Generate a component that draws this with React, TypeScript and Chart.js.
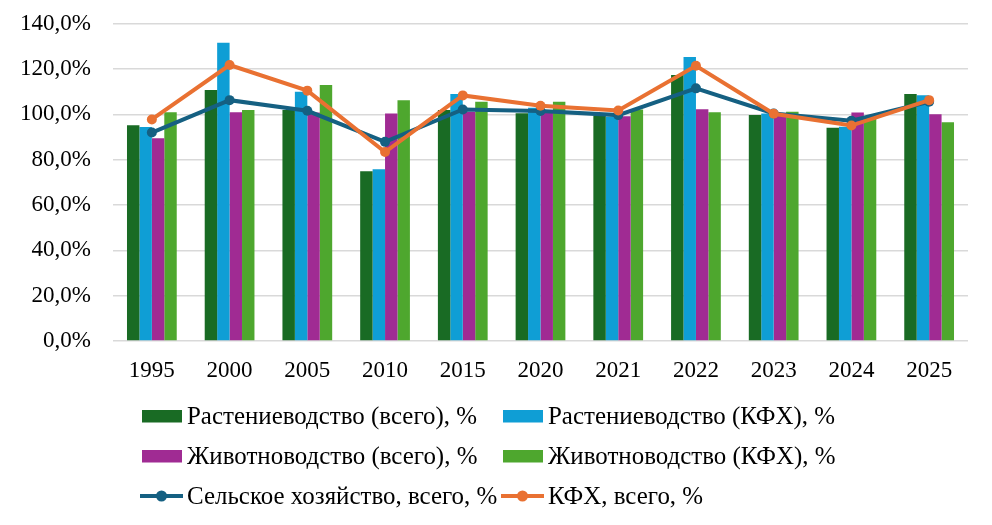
import { useEffect, useRef } from "react"
import { Chart, registerables, Plugin } from "chart.js"

Chart.register(...registerables)

const years = ["1995", "2000", "2005", "2010", "2015", "2020", "2021", "2022", "2023", "2024", "2025"]

const cropAll = [95.2, 110.8, 101.9, 74.9, 101.9, 100.5, 99.5, 117.4, 99.7, 94.1, 109.0]
const cropKfh = [94.4, 131.6, 110.0, 75.8, 109.0, 103.0, 99.0, 125.4, 100.4, 94.6, 108.5]
const livestockAll = [89.5, 101.0, 100.8, 100.4, 101.2, 101.0, 99.2, 102.3, 100.0, 100.8, 100.1]
const livestockKfh = [101.0, 101.9, 113.0, 106.3, 105.6, 105.6, 102.2, 101.0, 101.2, 98.3, 96.6]
const agricultureAll = [92.0, 106.3, 101.6, 87.9, 102.2, 101.5, 99.7, 111.5, 100.4, 97.2, 105.6]
const kfhAll = [97.8, 121.8, 110.5, 83.4, 108.4, 103.8, 101.7, 121.5, 100.3, 95.1, 106.3]

const FONT = "'Liberation Serif', 'Times New Roman', serif"

// legend drawn in two fixed columns, like the Excel original
const gridLegend: Plugin<"bar"> = {
  id: "gridLegend",
  afterDraw(chart) {
    const ctx = chart.ctx
    const ds = chart.data.datasets as any[]
    // [dataset index, column, row]
    const cells = [
      [2, 0, 0],
      [3, 1, 0],
      [4, 0, 1],
      [5, 1, 1],
      [0, 0, 2],
      [1, 1, 2],
    ]
    const colX = [142, 503]
    const rowY = [416, 456, 496]
    ctx.save()
    ctx.font = "25px " + FONT
    ctx.textBaseline = "middle"
    const sx = 290 / ctx.measureText(ds[2].label).width
    cells.forEach(([i, c, r]) => {
      const d = ds[i]
      const x = colX[c]
      const y = rowY[r]
      if (d.type === "line") {
        ctx.strokeStyle = d.borderColor
        ctx.lineWidth = 4
        ctx.beginPath()
        ctx.moveTo(x - 2, y)
        ctx.lineTo(x + 41, y)
        ctx.stroke()
        ctx.fillStyle = d.borderColor
        ctx.beginPath()
        ctx.arc(x + 19.5, y, 5.5, 0, Math.PI * 2)
        ctx.fill()
      } else {
        ctx.fillStyle = d.backgroundColor
        ctx.fillRect(x, y - 6, 40, 12.5)
      }
      ctx.fillStyle = "#000"
      ctx.save()
      ctx.translate(x + 45, y + 1)
      ctx.scale(sx, 1)
      ctx.fillText(d.label, 0, 0)
      ctx.restore()
    })
    ctx.restore()
  },
}

export default function App() {
  const chartRef = useRef<HTMLCanvasElement>(null)
  const chartInstance = useRef<Chart | null>(null)

  useEffect(() => {
    document.body.style.margin = "0"
    if (chartRef.current) {
      const ctx = chartRef.current.getContext("2d")
      if (ctx) {
        if (chartInstance.current) {
          chartInstance.current.destroy()
        }

        const bar = (label: string, data: number[], color: string) => ({
          type: "bar" as const,
          label,
          data,
          backgroundColor: color,
          borderWidth: 0,
          categoryPercentage: 0.64,
          barPercentage: 1,
          order: 2,
        })
        const line = (label: string, data: number[], color: string, order: number) => ({
          type: "line" as const,
          label,
          data,
          borderColor: color,
          backgroundColor: color,
          borderWidth: 4,
          pointRadius: 5,
          pointBackgroundColor: color,
          pointBorderWidth: 0,
          tension: 0,
          order,
        })

        chartInstance.current = new Chart(ctx, {
          type: "bar",
          data: {
            labels: years,
            datasets: [
              line("Сельское хозяйство, всего, %", agricultureAll, "#156082", 1),
              line("КФХ, всего, %", kfhAll, "#E97132", 0),
              bar("Растениеводство (всего), %", cropAll, "#196B24"),
              bar("Растениеводство (КФХ), %", cropKfh, "#0F9ED5"),
              bar("Животноводство (всего), %", livestockAll, "#A02B93"),
              bar("Животноводство (КФХ), %", livestockKfh, "#4EA72E"),
            ] as any,
          },
          options: {
            responsive: false,
            animation: false,
            devicePixelRatio: 1,
            layout: {
              padding: { top: 0, right: 24, left: 0, bottom: 134 },
            },
            plugins: {
              legend: { display: false },
              tooltip: { enabled: false },
            },
            scales: {
              x: {
                grid: { display: false },
                border: { display: false },
                ticks: {
                  color: "#000",
                  padding: 8,
                  font: { family: FONT, size: 23 },
                },
                afterFit: (scale) => {
                  scale.height = 50
                },
              },
              y: {
                min: 0,
                max: 140,
                border: { display: false },
                grid: {
                  color: "#D9D9D9",
                  lineWidth: 1.6,
                  drawTicks: true,
                  tickLength: 12,
                  tickColor: "rgba(0,0,0,0)",
                },
                ticks: {
                  stepSize: 20,
                  color: "#000",
                  padding: 10,
                  font: { family: FONT, size: 23 },
                  callback: (v) => Number(v).toFixed(1).replace(".", ",") + "%",
                },
                afterFit: (scale) => {
                  scale.width = 113
                },
              },
            },
          },
          plugins: [gridLegend],
        })
      }
    }

    return () => {
      if (chartInstance.current) {
        chartInstance.current.destroy()
        chartInstance.current = null
      }
    }
  }, [])

  return (
    <div style={{ width: 992, height: 525, background: "#fff" }}>
      <canvas ref={chartRef} width={992} height={525} />
    </div>
  )
}
